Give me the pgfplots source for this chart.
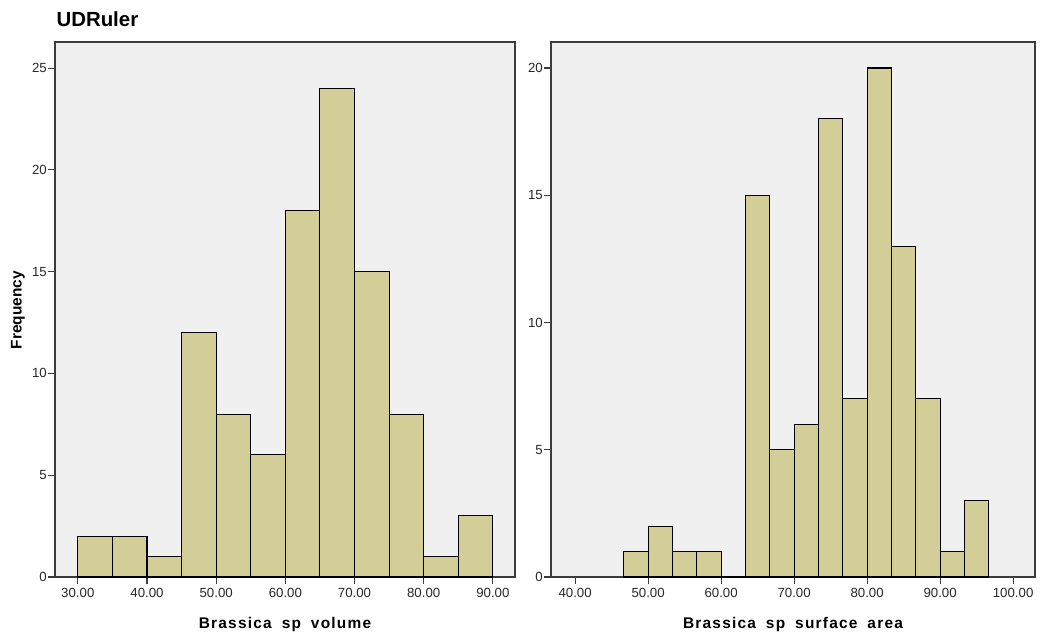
\documentclass[border=0pt]{standalone}
\usepackage{pgfplots}
\pgfplotsset{compat=1.18}
\usepackage{fontspec}
\setmainfont{Liberation Sans}
\newfontfamily\labelfont[LetterSpace=8,WordSpace=1.8]{Liberation Sans}
\definecolor{barfill}{RGB}{211,206,151}
\definecolor{bg}{RGB}{240,240,240}
\definecolor{framec}{RGB}{60,60,60}
\pgfplotsset{
 hist/.style={
  scale only axis, height=535bp, ymin=0,
  axis background/.style={fill=bg},
  axis line style={framec, line width=1.4bp},
  tick style={framec, line width=1.1bp},
  tick align=outside, major tick length=7bp,
  tick pos=left,
  /pgf/number format/assume math mode=true,
  tick label style={font=\fontsize{13.3}{15}\selectfont, text=black!85},
  x tick label style={/pgf/number format/.cd, fixed, fixed zerofill, precision=2, /tikz/.cd, yshift=-1bp},
  y tick label style={inner sep=1bp},
  xlabel style={at={(axis description cs:0.5,0)}, anchor=center, yshift=-47bp, font=\fontsize{15.5}{17}\labelfont\bfseries},
 }
}
\begin{document}
\begin{tikzpicture}
\path[use as bounding box] (0,0) rectangle (1048bp,-639bp);
\node[anchor=west, font=\fontsize{20.5}{22}\selectfont\bfseries] at (53bp,-19bp) {UDRuler};
\node[rotate=90, font=\fontsize{15.5}{17}\selectfont\bfseries] at (18bp,-310bp) {Frequency};
\begin{axis}[hist, at={(55bp,-577bp)}, anchor=south west, width=460bp,
  xmin=26.7, xmax=93.2, ymax=26.28,
  xtick={30,40,...,90}, ytick={0,5,...,25},
  xlabel={Brassica sp volume}]
\addplot[ybar interval, fill=barfill, draw=black, line width=1.1bp] coordinates {
 (30,2)(35,2)(40,1)(45,12)(50,8)(55,6)(60,18)(65,24)(70,15)(75,8)(80,1)(85,3)(90,0)};
\end{axis}
\begin{axis}[hist, at={(551bp,-577bp)}, anchor=south west, width=484bp,
  xmin=36.7, xmax=103.0, ymax=21.02,
  xtick={40,50,...,100}, ytick={0,5,...,20},
  xlabel={Brassica sp surface area}]
\addplot[ybar interval, fill=barfill, draw=black, line width=1.1bp] coordinates {
 (46.667,1)(50,2)(53.333,1)(56.667,1)(60,0)(63.333,15)(66.667,5)(70,6)(73.333,18)(76.667,7)(80,20)(83.333,13)(86.667,7)(90,1)(93.333,3)(96.667,0)};
\end{axis}
\end{tikzpicture}
\end{document}
